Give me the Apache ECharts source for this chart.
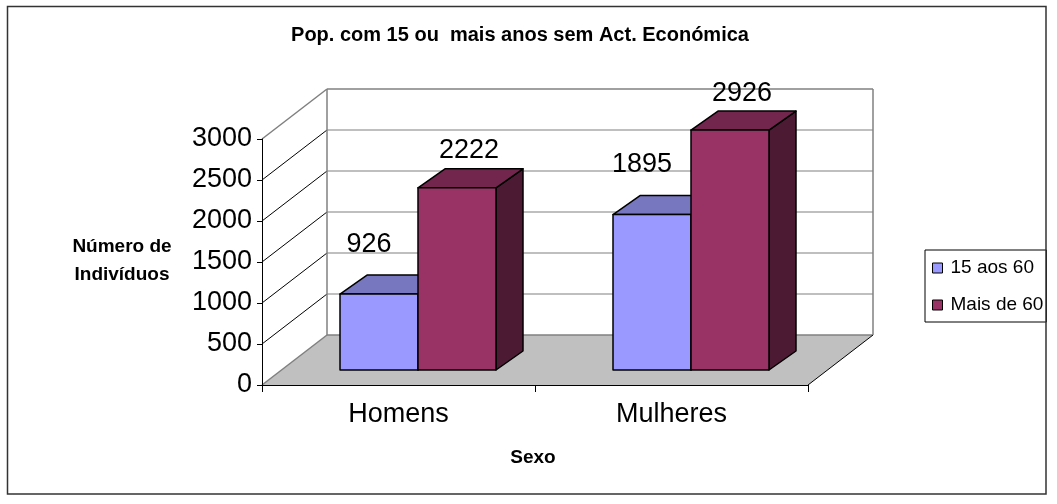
<!DOCTYPE html>
<html>
<head>
<meta charset="utf-8">
<script src="https://cdn.jsdelivr.net/npm/echarts@6/dist/echarts.min.js"></script>
<style>
  html, body { margin: 0; padding: 0; background: #fff; }
  #chart { width: 1057px; height: 504px; }
</style>
</head>
<body>
<div id="chart"></div>
<script>
// Population aged 15+ without economic activity, by sex
const categories = ['Homens', 'Mulheres'];
const seriesNames = ['15 aos 60', 'Mais de 60'];
const values15a60 = [926, 1895];
const valuesMais60 = [2222, 2926];
const yTicks = [0, 500, 1000, 1500, 2000, 2500, 3000];

const FONT = '"Liberation Sans", Arial, Helvetica, sans-serif';

// Pseudo-3D projection: offset of the back wall, position of bars inside the floor depth
const WALL_DX = 65, WALL_DY = -50;
const BAR_FRONT_DX = 19.5, BAR_FRONT_DY = -15;
const BAR_DX = 27, BAR_DY = -19;
const BAR_FRAC = 0.2857;

const palette = [
  { front: '#9999ff', top: '#7777bf', side: '#5c5c99' },
  { front: '#993366', top: '#73264d', side: '#4d1a33' }
];
const labelOffset = [[-10, -50], [12, -37]];

// floor, back wall, side wall and their grid lines, one item per tick value
function wallRenderer(params, api) {
  const v = api.value(1);
  const cs = params.coordSys;
  const L = cs.x, R = cs.x + cs.width;
  const y = api.coord([0, v])[1];
  const grey = '#808080';
  const first = yTicks[0], last = yTicks[yTicks.length - 1];
  const edge = (v === first || v === last);
  const children = [];
  if (v === first) {
    const yTop = api.coord([0, last])[1];
    children.push({
      type: 'polygon', z2: 0,
      shape: { points: [[L, y], [R, y], [R + WALL_DX, y + WALL_DY], [L + WALL_DX, y + WALL_DY]] },
      style: { fill: '#c0c0c0' }
    });
    children.push({
      type: 'line', z2: 2,
      shape: { x1: R, y1: y, x2: R + WALL_DX, y2: y + WALL_DY },
      style: { stroke: '#000', lineWidth: 1 }
    });
    children.push({
      type: 'line', z2: 2,
      shape: { x1: L + WALL_DX, y1: y + WALL_DY, x2: L + WALL_DX, y2: yTop + WALL_DY },
      style: { stroke: grey, lineWidth: 1.5 }
    });
    children.push({
      type: 'line', z2: 2,
      shape: { x1: R + WALL_DX, y1: y + WALL_DY, x2: R + WALL_DX, y2: yTop + WALL_DY },
      style: { stroke: grey, lineWidth: 1.5 }
    });
  }
  children.push({
    type: 'line', z2: 1,
    shape: { x1: L, y1: y, x2: L + WALL_DX, y2: y + WALL_DY },
    style: { stroke: edge ? grey : '#000', lineWidth: edge ? 1.5 : 1 }
  });
  children.push({
    type: 'line', z2: 1,
    shape: { x1: L + WALL_DX, y1: y + WALL_DY, x2: R + WALL_DX, y2: y + WALL_DY },
    style: { stroke: grey, lineWidth: edge ? 1.5 : 1.2 }
  });
  return { type: 'group', children: children };
}

// box-shaped bar: side, top and front faces plus value label
function barRenderer(si) {
  return function (params, api) {
    const cat = api.value(0), v = api.value(1);
    const band = api.size([1, 0])[0];
    const w = band * BAR_FRAC;
    const base = api.coord([cat, 0]);
    const top = api.coord([cat, v]);
    const cx = base[0] + BAR_FRONT_DX;
    const x0 = si === 0 ? cx - w : cx;
    const x1 = x0 + w;
    const yb = base[1] + BAR_FRONT_DY;
    const yt = top[1] + BAR_FRONT_DY;
    const c = palette[si];
    const st = (fill) => ({ fill: fill, stroke: '#000', lineWidth: 1.5, lineJoin: 'round' });
    return {
      type: 'group',
      children: [
        { type: 'polygon', shape: { points: [[x1, yb], [x1 + BAR_DX, yb + BAR_DY], [x1 + BAR_DX, yt + BAR_DY], [x1, yt]] }, style: st(c.side) },
        { type: 'polygon', shape: { points: [[x0, yt], [x1, yt], [x1 + BAR_DX, yt + BAR_DY], [x0 + BAR_DX, yt + BAR_DY]] }, style: st(c.top) },
        { type: 'rect', shape: { x: x0, y: yt, width: w, height: yb - yt }, style: st(c.front) },
        {
          type: 'text', z2: 10,
          style: {
            text: String(v),
            x: (x0 + x1) / 2 + labelOffset[si][0],
            y: yt + labelOffset[si][1],
            align: 'center', verticalAlign: 'middle',
            fill: '#000', font: '27px ' + FONT
          }
        }
      ]
    };
  };
}

const chart = echarts.init(document.getElementById('chart'), null, { renderer: 'canvas' });

chart.setOption({
  animation: false,
  backgroundColor: '#fff',
  title: [
    {
      text: 'Pop. com 15 ou  mais anos sem Act. Económica',
      left: 520, top: 25, textAlign: 'center', padding: 0,
      textStyle: { fontFamily: FONT, fontSize: 20, fontWeight: 'bold', color: '#000' }
    },
    {
      text: 'Número de\nIndivíduos',
      left: 122, top: 233, textAlign: 'center', padding: 0,
      textStyle: { fontFamily: FONT, fontSize: 19, fontWeight: 'bold', color: '#000', lineHeight: 28 }
    },
    {
      text: 'Sexo',
      left: 533, top: 447, textAlign: 'center', padding: 0,
      textStyle: { fontFamily: FONT, fontSize: 19, fontWeight: 'bold', color: '#000', lineHeight: 22 }
    }
  ],
  legend: {
    orient: 'vertical',
    left: 925, top: 250,
    padding: [7, 3, 6, 7],
    backgroundColor: '#fff',
    borderColor: '#000', borderWidth: 1,
    itemWidth: 10, itemHeight: 10, itemGap: 15,
    icon: 'rect',
    itemStyle: { borderColor: '#000', borderWidth: 1 },
    textStyle: { fontFamily: FONT, fontSize: 19, color: '#000', lineHeight: 22, padding: [0, 0, 0, 3] },
    data: seriesNames
  },
  grid: { left: 262, top: 139, width: 546, height: 246 },
  xAxis: {
    type: 'category',
    data: categories,
    axisLine: { lineStyle: { color: '#000', width: 1 } },
    axisTick: { show: true, length: 7, lineStyle: { color: '#000' } },
    axisLabel: { fontFamily: FONT, fontSize: 27, color: '#000', margin: 16 },
    splitLine: { show: false }
  },
  yAxis: {
    type: 'value',
    min: yTicks[0], max: yTicks[yTicks.length - 1], interval: 500,
    axisLine: { show: true, lineStyle: { color: '#000', width: 1 } },
    axisTick: { show: true, length: 5, lineStyle: { color: '#000' } },
    axisLabel: {
      fontFamily: FONT, fontSize: 27, color: '#000', margin: 10,
      formatter: (v) => String(v)
    },
    splitLine: { show: false }
  },
  graphic: [
    {
      type: 'rect', z: 100, silent: true,
      shape: { x: 7.5, y: 6.5, width: 1038.5, height: 487.5 },
      style: { fill: null, stroke: '#333', lineWidth: 1.5 }
    }
  ],
  series: [
    {
      type: 'custom', name: '_wall', z: -1, clip: false, silent: true,
      renderItem: wallRenderer,
      data: yTicks.map(v => [0, v])
    },
    {
      type: 'custom', name: seriesNames[0], z: 3, clip: false,
      itemStyle: { color: palette[0].front, borderColor: '#000', borderWidth: 1 },
      renderItem: barRenderer(0),
      encode: { x: 0, y: 1 },
      data: values15a60.map((v, i) => [i, v])
    },
    {
      type: 'custom', name: seriesNames[1], z: 4, clip: false,
      itemStyle: { color: palette[1].front, borderColor: '#000', borderWidth: 1 },
      renderItem: barRenderer(1),
      encode: { x: 0, y: 1 },
      data: valuesMais60.map((v, i) => [i, v])
    }
  ]
});
</script>
</body>
</html>
